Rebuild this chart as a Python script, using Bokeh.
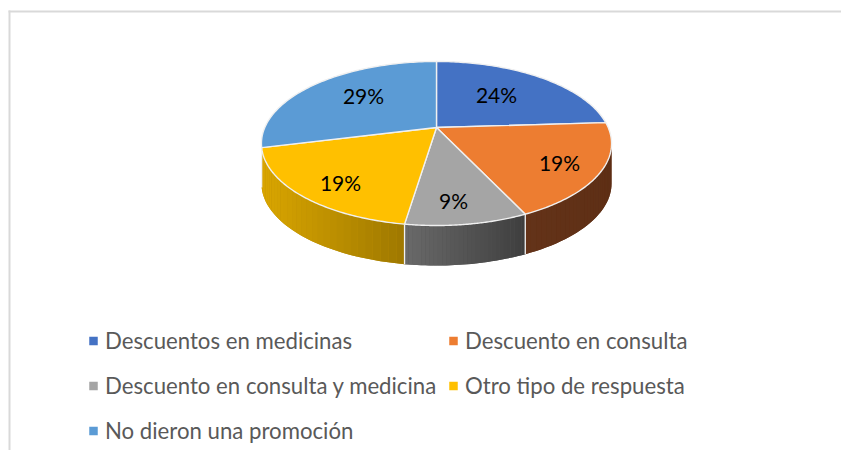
import numpy as np
from bokeh.plotting import figure
from bokeh.models import Range1d
from bokeh.core.properties import value
from bokeh.embed import file_html
from bokeh.resources import INLINE

categories = ["Descuentos en medicinas", "Descuento en consulta",
              "Descuento en consulta y medicina", "Otro tipo de respuesta",
              "No dieron una promoción"]
values = [24.0, 19.0, 9.4, 18.7, 28.9]
colors = ["#4472C4", "#ED7D31", "#A5A5A5", "#FFC000", "#5B9BD5"]

# side-wall shading (left colour, right colour) per slice
side_left = ["#2B4A80", "#643319", "#6A6A6A", "#DAA600", "#DAA600"]
side_right = ["#2B4A80", "#5E2F15", "#3E3E3E", "#9E7800", "#DAA600"]

# layout, in picture pixels
CX, CY = 436.0, 127.0
A, C, B = 171.7, 78.9, 0.195
DEPTH = 40.0
label_x = [496, 559, 453, 340, 363]
label_y = [93.5, 161.5, 199.5, 181.5, 94.5]
legend_x = [93, 453, 93, 453, 93]
legend_y = [340, 340, 385, 385, 430]
TEXT = "#595959"
FONT = "Lato"


def rim(theta):
    """Perspective projection of a pie-rim angle (clockwise from 12 o'clock)."""
    u, v = np.sin(theta), -np.cos(theta)
    d = 1 - B * v
    return CX + A * u / d, CY + C * v / d


def hex2rgb(h):
    return np.array([int(h[i:i + 2], 16) for i in (1, 3, 5)], dtype=float)


p = figure(width=841, height=450, output_backend="svg", toolbar_location=None,
           x_range=Range1d(0, 841), y_range=Range1d(450, 0),
           min_border=0, outline_line_color=None, background_fill_color="white",
           border_fill_color="white")
p.axis.visible = False
p.grid.visible = False

# chart frame
p.segment(x0=[8], y0=[11], x1=[841], y1=[11], line_color="#D9D9D9", line_width=2)
p.segment(x0=[9], y0=[10], x1=[9], y1=[450], line_color="#D9D9D9", line_width=2)

fractions = np.array(values, dtype=float) / sum(values)
edges = np.concatenate([[0], np.cumsum(fractions)]) * 2 * np.pi
vis_lo = np.arccos(-B)
vis_hi = 2 * np.pi - vis_lo

# side walls: a base shape, then thin strips that give the horizontal gradient
for i in range(len(values)):
    lo, hi = max(edges[i], vis_lo), min(edges[i + 1], vis_hi)
    if hi <= lo:
        continue
    ts = np.linspace(lo, hi, 31)
    xs_all, ys_all = rim(ts)
    xmin, xmax = xs_all.min(), xs_all.max()
    cl, cr = hex2rgb(side_left[i]), hex2rgb(side_right[i])
    mid = "#%02X%02X%02X" % tuple(int(round(c)) for c in (cl + cr) / 2)
    p.patch(list(xs_all) + list(xs_all[::-1]),
            list(ys_all) + list(ys_all[::-1] + DEPTH),
            fill_color=mid, line_color=None)
    sx, sy, sc = [], [], []
    for a, b in zip(ts[:-1], ts[1:]):
        xa, ya = rim(a)
        xb, yb = rim(b)
        f = ((xa + xb) / 2 - xmin) / max(xmax - xmin, 1e-6)
        rgb = cl + (cr - cl) * f
        sx.append([xa, xb, xb, xa])
        sy.append([ya, yb, yb + DEPTH, ya + DEPTH])
        sc.append("#%02X%02X%02X" % tuple(int(round(c)) for c in rgb))
    p.patches(sx, sy, fill_color=sc, line_color=None)

# light separators on the side wall
for e in edges:
    if vis_lo <= e <= vis_hi:
        x, y = rim(e)
        p.segment(x0=[x], y0=[y], x1=[x], y1=[y + DEPTH], line_color="#F2F2F2", line_width=1.3)

# top faces
fx, fy = [], []
for i in range(len(values)):
    ts = np.linspace(edges[i], edges[i + 1], 90)
    x, y = rim(ts)
    fx.append([CX] + list(x))
    fy.append([CY] + list(y))
p.patches(fx, fy, fill_color=colors, line_color="#F0F0F0", line_width=1.4, line_join="round")

# percentage labels
p.text(label_x, label_y, text=[f"{round(v)}%" for v in values], text_color="#000000",
       text_font=value(FONT), text_font_size="21px",
       text_align="center", text_baseline="middle")

# legend
p.rect(legend_x, legend_y + np.array([0.5] * 5), width=8.5, height=8.5, fill_color=colors, line_color=None)
p.text([x + 11.5 for x in legend_x], legend_y, text=categories, text_color=TEXT,
       text_font=value(FONT), text_font_size="22.2px",
       text_align="left", text_baseline="middle")

open("out.html", "w").write(file_html(p, INLINE))
